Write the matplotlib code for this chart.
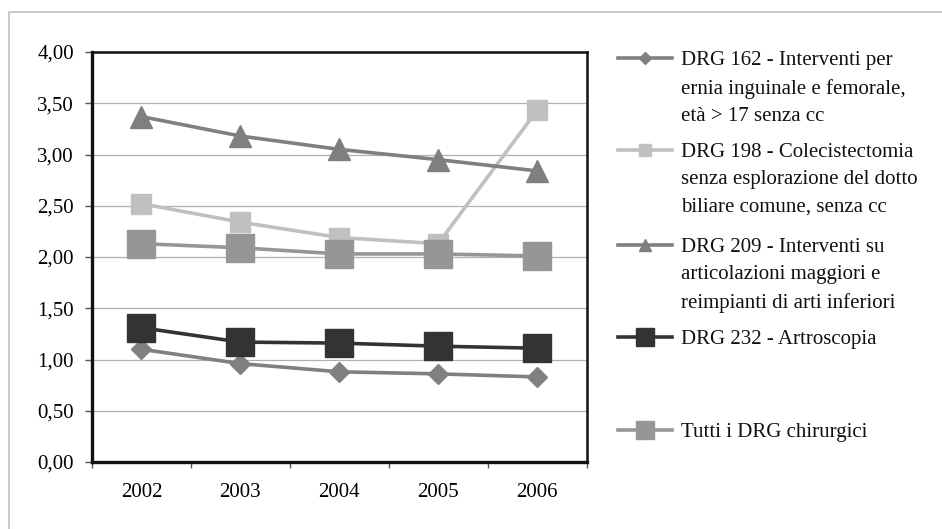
import matplotlib
matplotlib.use('Agg')
import matplotlib.pyplot as plt
from matplotlib.lines import Line2D
from matplotlib.ticker import FuncFormatter, FixedLocator

plt.rcParams['font.family'] = ['Liberation Serif', 'DejaVu Serif']

# Degenza media per anno
years = ['2002', '2003', '2004', '2005', '2006']
drg162 = [1.10, 0.96, 0.88, 0.86, 0.83]
drg198 = [2.52, 2.34, 2.19, 2.13, 3.43]
drg209 = [3.37, 3.18, 3.05, 2.95, 2.84]
drg232 = [1.31, 1.17, 1.16, 1.13, 1.11]
tutti = [2.13, 2.09, 2.03, 2.03, 2.01]

labels = [
    'DRG 162 - Interventi per\nernia inguinale e femorale,\netà > 17 senza cc',
    'DRG 198 - Colecistectomia\nsenza esplorazione del dotto\nbiliare comune, senza cc',
    'DRG 209 - Interventi su\narticolazioni maggiori e\nreimpianti di arti inferiori',
    'DRG 232 - Artroscopia',
    'Tutti i DRG chirurgici',
]

W, H = 942, 529
fig = plt.figure(figsize=(W / 100, H / 100), dpi=100)


def fx(x):
    return x / W


def fy(y):
    return 1 - y / H


ax = fig.add_axes([fx(92), fy(462), fx(586.5) - fx(92), fy(52) - fy(462)])

# stile delle serie: colore, marker, dimensione marker (grafico / legenda)
styles = [
    ('#808080', 'D', 10, 6.5),
    ('#c0c0c0', 's', 14.5, 9),
    ('#7f7f7f', '^', 16, 9),
    ('#333333', 's', 19.5, 13),
    ('#969696', 's', 19.5, 13),
]
series = [drg162, drg198, drg209, drg232, tutti]

x = range(len(years))
for vals, (col, mk, ms, _) in zip(series, styles):
    ax.plot(x, vals, color=col, lw=2.6, marker=mk, ms=ms,
            markerfacecolor=col, markeredgecolor=col, zorder=3)

ax.set_xlim(-0.5, len(years) - 0.5)
ax.set_ylim(0, 4)
ax.yaxis.set_major_locator(FixedLocator([i * 0.5 for i in range(9)]))
ax.yaxis.set_major_formatter(FuncFormatter(lambda v, p: f'{v:.2f}'.replace('.', ',')))
ax.set_xticks(list(x))
ax.set_xticklabels(years)
ax.set_xticks([i - 0.5 for i in range(len(years) + 1)], minor=True)
ax.tick_params(axis='x', which='major', length=0, pad=15, labelsize=15)
ax.tick_params(axis='x', which='minor', length=4, width=1, color='#555555', direction='out')
ax.tick_params(axis='y', length=5, width=1, color='#555555', pad=8, labelsize=15)
ax.grid(axis='y', color='#b0b0b0', lw=0.9, zorder=0)
ax.set_axisbelow(True)
for s in ax.spines.values():
    s.set_linewidth(1.8)
    s.set_color('#111111')
ax.spines['left'].set_linewidth(2.4)
ax.spines['bottom'].set_linewidth(2.4)

# legenda disegnata a mano, testo allineato alla prima riga
leg_y = [58, 150, 245, 337, 430]
for lab, (col, mk, _, lms), ly in zip(labels, styles, leg_y):
    fig.add_artist(Line2D([fx(618), fx(672)], [fy(ly), fy(ly)], color=col, lw=2.6,
                          transform=fig.transFigure))
    fig.add_artist(Line2D([fx(645)], [fy(ly)], color=col, marker=mk, ms=lms,
                          markerfacecolor=col, markeredgecolor=col,
                          transform=fig.transFigure))
    fig.text(fx(681), fy(ly - 7), lab, fontsize=15, va='top', ha='left',
             linespacing=1.58, color='#111111')

# bordo esterno dell'area del grafico
fig.add_artist(Line2D([fx(9), fx(9), fx(W + 5)], [fy(H + 5), fy(12), fy(12)],
                      color='#c0c0c0', lw=1.2, transform=fig.transFigure))

fig.savefig('out.png', dpi=100)
